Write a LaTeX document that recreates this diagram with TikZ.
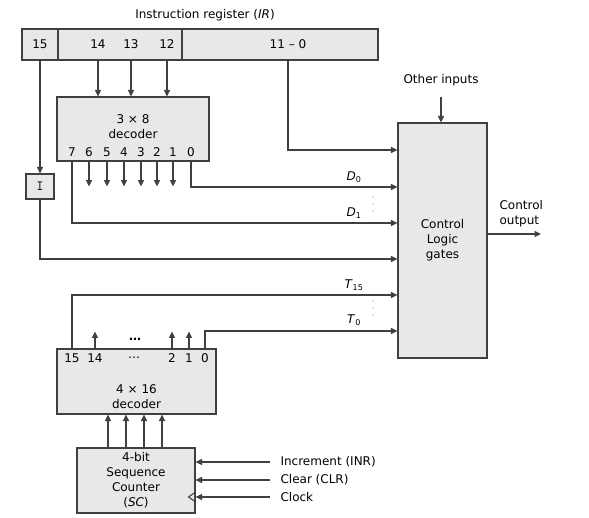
\documentclass[tikz,border=0pt]{standalone}
\usepackage{fontspec}
\setmainfont{DejaVu Sans}
\usetikzlibrary{arrows.meta}
\definecolor{wiregray}{RGB}{64,64,64}
\definecolor{boxgray}{RGB}{232,232,232}

\begin{document}
\begin{tikzpicture}[x=1pt,y=-1pt,line width=1.1pt,color=wiregray,
    >={Triangle[length=6.5pt,width=6pt]},
    font=\fontsize{12}{15}\selectfont,
    every node/.append style={text=black},
    box/.style={draw=wiregray,fill=boxgray,inner sep=0pt},
    lbl/.style={inner sep=0pt}]
  \useasboundingbox (0,0) rectangle (589,518);

  % instruction register
  \node (title) at (205,15) {Instruction register (\textit{IR})};
  \node[box,minimum width=36pt,minimum height=31pt] (ir15) at (40,44.5) {};
  \node[box,minimum width=124pt,minimum height=31pt] (ir14) at (120,44.5) {};
  \node[box,minimum width=196pt,minimum height=31pt] (ir11) at (280,44.5) {};
  \node[lbl] (b15) at (40,44.5) {15};
  \foreach \b/\x in {14/98,13/131,12/167}
    \node[lbl] (b\b) at (\x,44.5) {\b};
  \node[lbl] (b11) at (288,44.5) {11 – 0};

  % 3x8 decoder
  \node[box,minimum width=152pt,minimum height=64pt] (dec) at (133,129) {};
  \node[lbl,align=center] (dectxt) at (133,127) {3 × 8\\decoder};
  \foreach \d/\x in {7/72,6/89,5/107,4/124,3/141,2/157,1/173,0/191}
    \node[lbl] (o\d) at (\x,152) {\d};
  \foreach \b in {14,13,12}
    \draw[->] (b\b |- ir14.south) -- (b\b |- dec.north);
  \foreach \d in {6,...,1}
    \draw[->] (o\d |- dec.south) -- ++(0,25);

  % I flip-flop
  \node[box,minimum width=28pt,minimum height=25pt,font=\fontsize{14}{15}\ttfamily] (ibox) at (40,186.5) {I};
  \draw[->] (ir15.south) -- (ibox.north);

  % control logic
  \node[box,minimum width=89pt,minimum height=235pt,align=center] (ctrl) at (442.5,240.5) {Control\\Logic\\gates};
  \foreach \i/\y in {1/150,2/187,3/223,4/259,5/295,6/331}
    \coordinate (in\i) at (ctrl.west |- 0,\y);
  \node (other) at (441,80) {Other inputs};
  \draw[->] ([yshift=-7pt]other.south) -- (other |- ctrl.north);
  \coordinate (out) at (541,234);
  \draw[->] (ctrl.east |- out) -- (out);
  \node[lbl,align=left,anchor=west] (outtxt) at (499,213.5) {Control\\output};

  \draw[->] (b11 |- ir11.south) |- (in1);
  \draw[->] (o0 |- dec.south) |- (in2);
  \draw[->] (o7 |- dec.south) |- (in3);
  \draw[->] (ibox.south) |- (in4);
  \node[lbl] (dzero) at (354,177) {\textit{D}\textsubscript{0}};
  \node[lbl] (done) at (354,213) {\textit{D}\textsubscript{1}};
  \foreach \k in {0,1,2}
    \fill[gray] (373,197+\k*7) circle (0.7pt);

  % 4x16 decoder
  \node[box,minimum width=159pt,minimum height=65pt] (dec2) at (136.5,381.5) {};
  \node[lbl,align=center] (dec2txt) at (136.5,396.5) {4 × 16\\decoder};
  \foreach \t/\x in {15/72,14/95,2/172,1/189,0/205}
    \node[lbl] (t\t) at (\x,358) {\t};
  \node[lbl] (tdots) at (134,358) {\dots};
  \foreach \t in {14,2,1}
    \draw[->] (t\t |- dec2.north) -- ++(0,-17);
  \node[lbl] (updots) at (135,339) {\textbf{\dots}};
  \draw[->] (t15 |- dec2.north) |- (in5);
  \draw[->] (t0 |- dec2.north) |- (in6);
  \node[lbl] (tfift) at (354,285) {\textit{T}\textsubscript{15}};
  \node[lbl] (tzero) at (354,320) {\textit{T}\textsubscript{0}};
  \foreach \k in {0,1,2}
    \fill[gray] (373,301+\k*7) circle (0.7pt);

  % sequence counter
  \node[box,minimum width=118pt,minimum height=65pt,align=center] (sc) at (136,480.5) {4-bit\\Sequence\\Counter\\(\textit{SC})};
  \foreach \x in {108,126,144,162}
    \draw[->] (sc.north -| \x,0) -- (dec2.south -| \x,0);
  \node[lbl,anchor=west] (inr) at (280,462) {Increment (INR)};
  \node[lbl,anchor=west] (clr) at (280,480) {Clear (CLR)};
  \node[lbl,anchor=west] (clk) at (280,497) {Clock};
  \foreach \s in {inr,clr,clk}
    \draw[->] ([xshift=-10pt]\s.west) -- (\s -| sc.east);
  \draw (sc.east |- clk) ++(0,-5) -- ++(-7,5) -- ++(7,5);
\end{tikzpicture}
\end{document}
